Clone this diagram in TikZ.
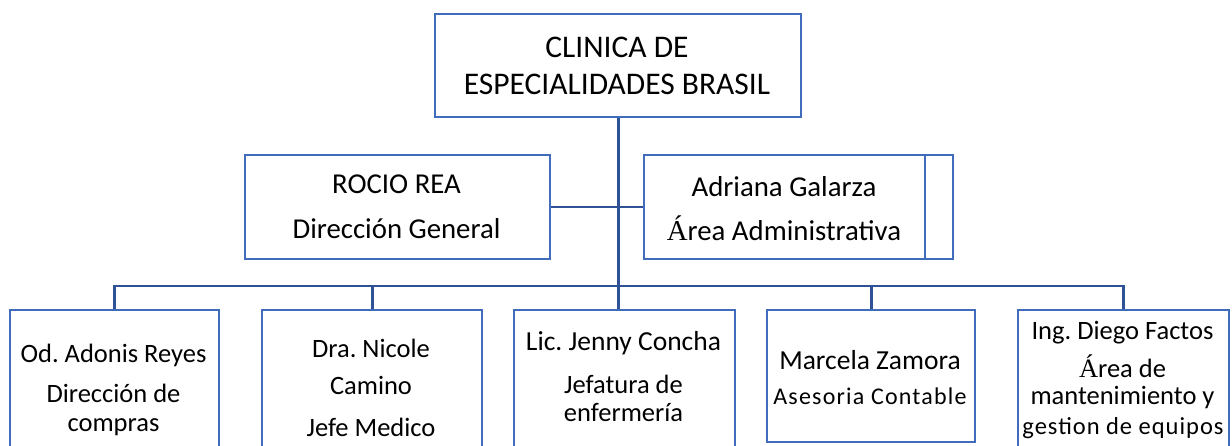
\documentclass[tikz,border=0pt]{standalone}
\usepackage{fontspec}
\setmainfont{Carlito}
\newfontfamily\serifacc{Liberation Serif}
\definecolor{boxblue}{RGB}{64,108,188}
\definecolor{linkblue}{RGB}{47,82,150}
\tikzset{
  orgbox/.style={draw=boxblue, line width=2.2pt, inner sep=0pt, anchor=north west},
  conn/.style={draw=linkblue, line width=2.8pt},
  ttl/.style={font=\fontsize{31.5}{37}\selectfont, align=center, inner sep=0pt},
  mid/.style={font=\fontsize{28.8}{30}\selectfont, inner sep=0pt},
  low/.style={font=\fontsize{26.5}{28}\selectfont, inner sep=0pt},
  lite/.style={font=\fontsize{24}{26}\selectfont\addfontfeatures{LetterSpace=5}, inner sep=0pt}
}
\begin{document}
\frenchspacing
\begin{tikzpicture}[x=1pt,y=-1pt]
\useasboundingbox (0,0) rectangle (1232,446);
% boxes
\node[orgbox, minimum width=366pt, minimum height=103pt] (title) at (434,13) {};
\node[orgbox, minimum width=305pt, minimum height=104pt] (rocio) at (244,154) {};
\node[orgbox, minimum width=309pt, minimum height=104pt] (adri) at (643,154) {};
\coordinate (adriline) at (925,154);
\node[orgbox, minimum width=209pt, minimum height=160pt] (b1) at (9,309) {};
\node[orgbox, minimum width=220pt, minimum height=160pt] (b2) at (261,309) {};
\node[orgbox, minimum width=221pt, minimum height=160pt] (b3) at (513,309) {};
\node[orgbox, minimum width=208pt, minimum height=132pt] (b4) at (766,309) {};
\node[orgbox, minimum width=211pt, minimum height=160pt] (b5) at (1017,309) {};
\draw[boxblue, line width=2.2pt] (adriline) -- (adriline |- adri.south);
% connectors
\coordinate (bus) at (617,286);
\draw[conn] (title.south) -- (title.south |- b3.north);
\draw[conn] (rocio.east) -- (adri.west);
\draw[conn] (b1.north) -- (b1.north |- bus) -- (b5.north |- bus) -- (b5.north);
\draw[conn] (b2.north) -- (b2.north |- bus);
\draw[conn] (b4.north) -- (b4.north |- bus);
% texts
\node[ttl] (ttxt) at (617,66) {CLINICA DE\\ESPECIALIDADES BRASIL};
\node[mid] (r1) at (396.5,184) {ROCIO REA};
\node[mid] (r2) at (396.5,229) {Dirección General};
\node[mid] (a1) at (784,187) {Adriana Galarza};
\node[mid] (a2) at (784,228) {{\serifacc Á}rea Administrativa};
\node[low] (t1a) at (113.5,355) {Od. Adonis Reyes};
\node[low] (t1b) at (113.5,393) {Dirección de};
\node[low] (t1c) at (113.5,427) {compras};
\node[low] (t2a) at (371,348) {Dra. Nicole};
\node[low] (t2b) at (371,385) {Camino};
\node[low] (t2c) at (371,427) {Jefe Medico};
\node[low, font=\fontsize{27.5}{28}\selectfont] (t3a) at (623.5,343) {Lic. Jenny Concha};
\node[low] (t3b) at (623.5,384) {Jefatura de};
\node[low] (t3c) at (623.5,413) {enfermería};
\node[low, font=\fontsize{27.5}{28}\selectfont] (t4a) at (870,360) {Marcela Zamora};
\node[lite] (t4b) at (870,396) {Asesoria Contable};
\node[low] (t5a) at (1122.5,333) {Ing. Diego Factos};
\node[low] (t5b) at (1122.5,366) {{\serifacc Á}rea de};
\node[low] (t5c) at (1122.5,398) {mantenimiento y};
\node[lite, font=\fontsize{24.5}{26}\selectfont\addfontfeatures{LetterSpace=4}] (t5d) at (1123,428) {gestion de equipos};
\end{tikzpicture}
\end{document}
